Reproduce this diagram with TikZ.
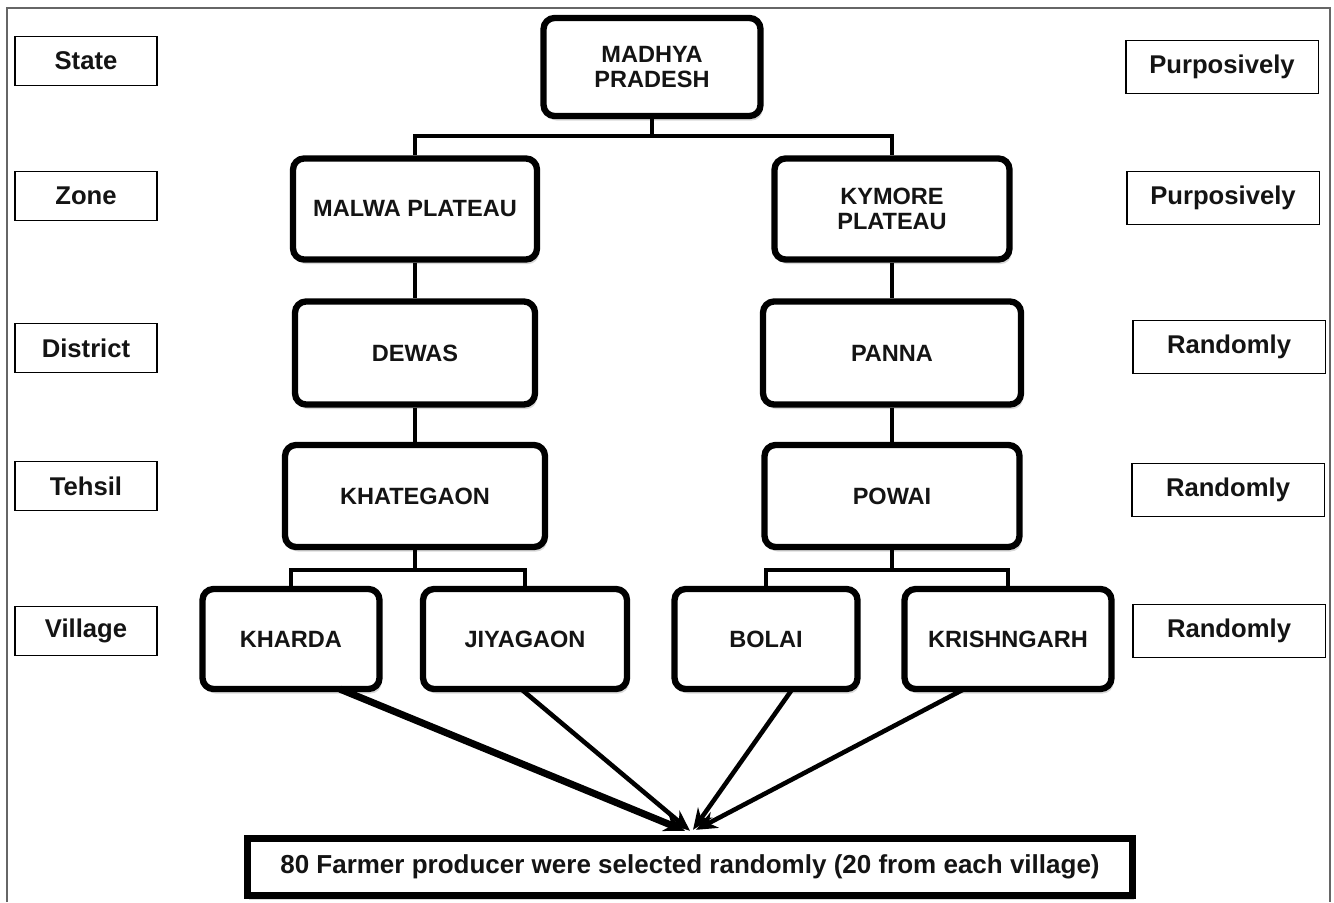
\documentclass[tikz,border=0pt]{standalone}
\usepackage{fontspec}
\setmainfont{Liberation Sans}
\usetikzlibrary{arrows.meta,calc,shadows}

\begin{document}
\begin{tikzpicture}[x=0.02cm,y=-0.02cm,
  every node/.style={text=black!92},
  unit/.style={draw,rounded corners=0.22cm,line width=3.6pt,fill=white,
    drop shadow={shadow xshift=1.2pt,shadow yshift=-2.6pt,opacity=.3},
    font=\fontsize{13.4}{14.5}\selectfont\bfseries,align=center,inner sep=0pt},
  lvl/.style={draw,line width=1.1pt,fill=white,minimum width=2.84cm,minimum height=0.98cm,
    font=\fontsize{14.6}{16}\selectfont\bfseries,inner sep=0pt},
  how/.style={lvl,minimum width=3.86cm,minimum height=1.06cm},
  link/.style={line width=2.2pt},
  pick/.style={line width=2.6pt,-{Stealth[length=12pt,width=10pt]}}]
  \useasboundingbox (0,0) rectangle (1334,902);
  \draw[line width=1pt,black!60] (7,902) -- (7,8) -- (1330,8) -- (1330,902);

  \foreach \name/\txt/\y in {state/State/61,zone/Zone/196,dist/District/348,teh/Tehsil/486,vil/Village/631}
    \node[lvl] (\name) at (86,\y) {\txt};
  \foreach \name/\x/\y/\txt in {how1/1222/67/Purposively,how2/1223/198/Purposively,
      how3/1229/347/Randomly,how4/1228/490/Randomly,how5/1229/631/Randomly}
    \node[how] (\name) at (\x,\y) {\txt};

  \node[unit,minimum width=4.34cm,minimum height=1.96cm] (mp) at (652,67) {MADHYA\\PRADESH};
  \node[unit,minimum width=4.88cm,minimum height=2.02cm] (malwa) at (415,209) {MALWA PLATEAU};
  \node[unit,minimum width=4.70cm,minimum height=2.02cm] (kymore) at (892,209) {KYMORE\\PLATEAU};
  \node[unit,minimum width=4.80cm,minimum height=2.06cm] (dewas) at (415,353) {DEWAS};
  \node[unit,minimum width=5.16cm,minimum height=2.06cm] (panna) at (892,353) {PANNA};
  \node[unit,minimum width=5.20cm,minimum height=2.04cm] (khat) at (415,496) {KHATEGAON};
  \node[unit,minimum width=5.10cm,minimum height=2.04cm] (powai) at (892,496) {POWAI};
  \node[unit,minimum width=3.54cm,minimum height=2.00cm] (kharda) at (291,639) {KHARDA};
  \node[unit,minimum width=4.08cm,minimum height=2.00cm] (jiya) at (525,639) {JIYAGAON};
  \node[unit,minimum width=3.66cm,minimum height=2.00cm] (bolai) at (766,639) {BOLAI};
  \node[unit,minimum width=4.14cm,minimum height=2.00cm] (krish) at (1008,639) {KRISHNGARH};
  \node[draw,line width=4.2pt,fill=white,minimum width=17.7cm,minimum height=1.14cm,inner sep=0pt,
    drop shadow={shadow xshift=1pt,shadow yshift=-2.5pt,opacity=.3},
    font=\fontsize{14.8}{16}\selectfont\bfseries] (farm) at (690,867)
    {80 Farmer producer were selected randomly (20 from each village)};

  \draw[link] (mp.south) -- ++(0,17) -| (malwa.north);
  \draw[link] (mp.south) ++(0,17) -| (kymore.north);
  \draw[link] (malwa) -- (dewas);
  \draw[link] (kymore) -- (panna);
  \draw[link] (dewas) -- (khat);
  \draw[link] (panna) -- (powai);
  \draw[link] (khat.south) -- ++(0,20) -| (kharda.north);
  \draw[link] (khat.south) ++(0,20) -| (jiya.north);
  \draw[link] (powai.south) -- ++(0,20) -| (bolai.north);
  \draw[link] (powai.south) ++(0,20) -| (krish.north);

  \coordinate (sink) at ($(farm.north)+(0,-4)$);
  \draw[pick,line width=4pt] ($(kharda.south)+(49,-3)$) -- ($(sink)+(-5,0)$);
  \draw[pick] ($(jiya.south)+(-5,-4)$) -- (sink);
  \draw[pick] ($(bolai.south)+(27,-4)$) -- ($(sink)+(3,-1)$);
  \draw[pick] ($(krish.south)+(-44,-3)$) -- ($(sink)+(6,-1)$);
\end{tikzpicture}
\end{document}
